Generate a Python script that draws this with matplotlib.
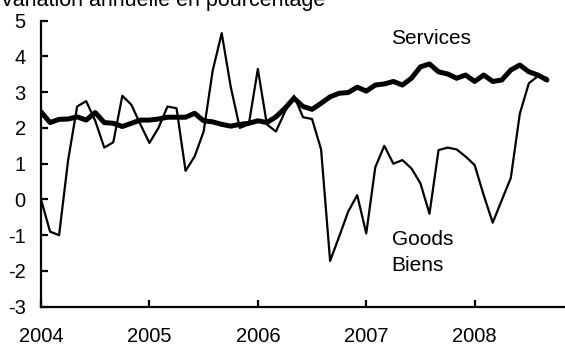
import numpy as np
import matplotlib.pyplot as plt

plt.rcParams['font.family'] = ['Liberation Sans', 'DejaVu Sans']
plt.rcParams['axes.unicode_minus'] = False

# monthly, Jan 2004 .. Sep 2008 (year-over-year % change)
goods = [0.0, -0.9, -1.0, 1.1, 2.6, 2.75, 2.2, 1.45, 1.6, 2.9, 2.65, 2.1,
         1.58, 2.0, 2.6, 2.55, 0.8, 1.2, 1.9, 3.6, 4.65, 3.15, 2.0, 2.1,
         3.65, 2.1, 1.9, 2.45, 2.9, 2.3, 2.25, 1.4, -1.72, -1.04, -0.34, 0.12,
         -0.95, 0.9, 1.5, 1.0, 1.1, 0.87, 0.45, -0.4, 1.38, 1.45, 1.4, 1.2,
         0.96, 0.12, -0.65, -0.02, 0.6, 2.4, 3.25, 3.45, 3.4]
services = [2.45, 2.15, 2.24, 2.25, 2.31, 2.22, 2.43, 2.15, 2.13, 2.04, 2.13, 2.22,
            2.22, 2.25, 2.3, 2.3, 2.3, 2.41, 2.2, 2.17, 2.1, 2.05, 2.1, 2.13,
            2.2, 2.15, 2.31, 2.55, 2.83, 2.6, 2.52, 2.69, 2.87, 2.97, 2.99, 3.14,
            3.03, 3.2, 3.23, 3.3, 3.2, 3.39, 3.71, 3.79, 3.57, 3.51, 3.39, 3.48,
            3.3, 3.48, 3.3, 3.34, 3.62, 3.76, 3.57, 3.48, 3.34]
years = ['2004', '2005', '2006', '2007', '2008']
yticks = [-3, -2, -1, 0, 1, 2, 3, 4, 5]

months = np.arange(len(goods))

fig = plt.figure(figsize=(5.65, 3.46), dpi=100)
ax = fig.add_axes([0.0726, 0.1136, 0.9274, 0.8266])

ax.plot(months, goods, color='black', lw=1.6, solid_joinstyle='round')
ax.plot(months, services, color='black', lw=3.6, solid_joinstyle='round',
        solid_capstyle='round')

ax.set_xlim(0, 58)
ax.set_ylim(-3, 5)
ax.set_xticks(np.arange(len(years)) * 12)
ax.set_xticklabels(years)
ax.set_yticks(yticks)

for s in ['top', 'right']:
    ax.spines[s].set_visible(False)
for s in ['left', 'bottom']:
    ax.spines[s].set_linewidth(1.6)

ax.tick_params(axis='both', direction='in', length=5, width=1.6, labelsize=14.5)
ax.tick_params(axis='x', pad=14.5)
ax.tick_params(axis='y', pad=11)

fig.text(0.0, 0.982, 'Variation annuelle en pourcentage', fontsize=15.5, va='baseline')
ax.text(38.8, 4.5, 'Services', fontsize=15, va='center')
ax.text(38.8, -1.11, 'Goods', fontsize=15, va='center')
ax.text(38.8, -1.84, 'Biens', fontsize=15, va='center')

fig.savefig('out.png', dpi=100)
